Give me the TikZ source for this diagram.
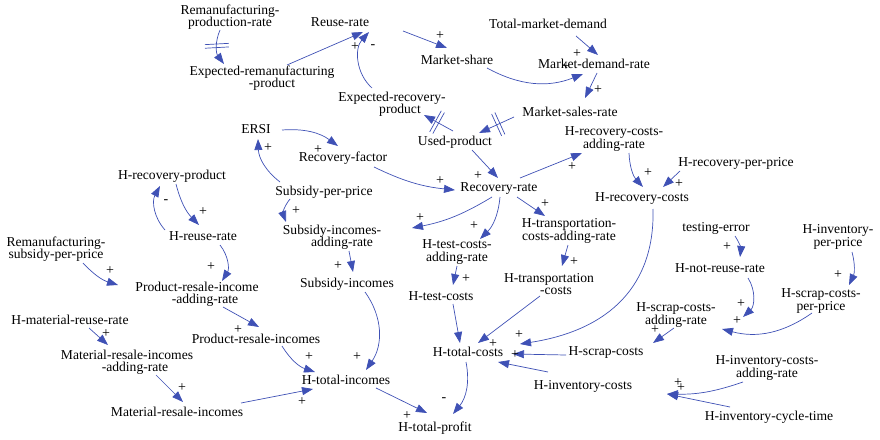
\documentclass[tikz,border=0pt]{standalone}
\usepackage{fontspec}
\setmainfont{Liberation Serif}
\usepackage{tikz}
\usetikzlibrary{arrows.meta, calc, decorations.markings}
\definecolor{linkblue}{RGB}{63,81,181}
\tikzset{
  cvar/.style={align=center, inner sep=2pt, font=\fontsize{13.6}{12.5}\selectfont},
  link/.style={draw=linkblue, line width=0.7pt, -{Triangle[length=11pt,width=8pt]}},
  polmark/.style={inner sep=0pt, font=\fontsize{14}{14}\selectfont},
  delaymark/.style={postaction={decorate}, decoration={markings, mark=at position #1 with {
    \draw[-, draw=linkblue, line width=0.7pt] (-1.8pt,-12pt) -- (-1.8pt,12pt) (1.8pt,-12pt) -- (1.8pt,12pt);}}},
}

\begin{document}
\begin{tikzpicture}[x=1pt, y=-1pt]
  \useasboundingbox (0,0) rectangle (880,439);

  % market side
  \node[cvar] (rpr) at (230,17) {Remanufacturing-\\production-rate};
  \node[cvar] (erp) at (262,78) {Expected-remanufacturing\\\hspace*{20pt}-product};
  \node[cvar] (rr) at (340,22) {Reuse-rate};
  \node[cvar] (tmd) at (548,24) {Total-market-demand};
  \node[cvar] (ms) at (457,60) {Market-share};
  \node[cvar] (mdr) at (594,64) {Market-demand-rate};
  \node[cvar] (erc) at (392,104) {Expected-recovery-\\\hspace*{16pt}product};
  \node[cvar] (msr) at (570,112) {Market-sales-rate};
  \node[cvar] (up) at (455,142) {Used-product};

  % recovery
  \node[cvar] (ersi) at (256,129) {ERSI};
  \node[cvar] (rf) at (343,158) {Recovery-factor};
  \node[cvar] (hrcar) at (614,139) {H-recovery-costs-\\adding-rate};
  \node[cvar] (hrpp) at (736,163) {H-recovery-per-price};
  \node[cvar] (hrp) at (172,176) {H-recovery-product};
  \node[cvar] (spp) at (324,192) {Subsidy-per-price};
  \node[cvar] (rec) at (499,189) {Recovery-rate};
  \node[cvar] (hrc) at (642,199) {H-recovery-costs};
  \node[cvar] (hrr) at (203,236) {H-reuse-rate};

  % incomes and costs
  \node[cvar] (siar) at (332,237) {Subsidy-incomes-\\\hspace*{20pt}adding-rate};
  \node[cvar] (htcar) at (457,252) {H-test-costs-\\adding-rate};
  \node[cvar] (htrar) at (569,231) {H-transportation-\\costs-adding-rate};
  \node[cvar] (te) at (716,228) {testing-error};
  \node[cvar] (hipp) at (838,237) {H-inventory-\\per-price};
  \node[cvar] (rspp) at (56,249) {Remanufacturing-\\subsidy-per-price};
  \node[cvar] (hnrr) at (720,268) {H-not-reuse-rate};
  \node[cvar] (si) at (347,284) {Subsidy-incomes};
  \node[cvar] (htrc) at (549,284) {H-transportation\\\hspace*{14pt}-costs};
  \node[cvar] (htc) at (441,296) {H-test-costs};
  \node[cvar] (priar) at (197,294) {Product-resale-income\\\hspace*{16pt}-adding-rate};
  \node[cvar] (hscpp) at (821,301) {H-scrap-costs-\\per-price};
  \node[cvar] (hscar) at (676,315) {H-scrap-costs-\\adding-rate};
  \node[cvar] (hmrr) at (70,320) {H-material-reuse-rate};
  \node[cvar] (pri) at (256,339) {Product-resale-incomes};
  \node[cvar] (htotc) at (468,352) {H-total-costs};
  \node[cvar] (hsc) at (606,352) {H-scrap-costs};
  \node[cvar] (mriar) at (127,362) {Material-resale-incomes\\\hspace*{16pt}-adding-rate};
  \node[cvar] (hti) at (346,380) {H-total-incomes};
  \node[cvar] (hicar) at (767,368) {H-inventory-costs-\\adding-rate};
  \node[cvar] (hic) at (583,386) {H-inventory-costs};
  \node[cvar] (mri) at (177,412) {Material-resale-incomes};
  \node[cvar] (hict) at (769,417) {H-inventory-cycle-time};
  \node[cvar] (htp) at (435,428) {H-total-profit};

  % links
  \draw[link, delaymark=0.45] ($(rpr)+(-10,13)$) to[bend right=30] ($(erp)+(-38,-14)$);
  \draw[link] ($(erp)+(25,-13)$) -- ($(rr)+(23,10)$);
  \draw[link] ($(erc)+(-20,-16)$) to[bend left=45] ($(rr)+(29,10)$);
  \draw[link] ($(rr)+(63,9)$) -- ($(ms)+(-10,-12)$);
  \draw[link] ($(ms)+(30,8)$) to[bend right=25] ($(mdr)+(-11,10)$);
  \draw[link] ($(tmd)+(28,12)$) -- ($(mdr)+(4,-9)$);
  \draw[link] ($(mdr)+(3,9)$) -- ($(msr)+(15,-14)$);
  \draw[link, delaymark=0.45] ($(msr)+(-56,5)$) -- ($(up)+(24,-9)$);
  \draw[link, delaymark=0.55] ($(up)+(-2,-11)$) -- ($(erc)+(32,11)$);
  \draw[link] ($(up)+(17,8)$) -- ($(rec)+(-1,-11)$);
  \draw[link] ($(ersi)+(26,1)$) to[bend left=20] ($(rf)+(-5,-12)$);
  \draw[link] ($(rf)+(31,9)$) to[bend right=10] ($(rec)+(-44,1)$);
  \draw[link] ($(spp)+(-44,-10)$) to[bend left=25] ($(ersi)+(2,10)$);
  \draw[link] ($(spp)+(-34,7)$) to[bend right=30] ($(siar)+(-46,-15)$);
  \draw[link] ($(rec)+(21,-11)$) -- ($(hrcar)+(-32,14)$);
  \draw[link] ($(rec)+(-7,8)$) to[bend left=10] ($(siar)+(80,-9)$);
  \draw[link] ($(rec)+(1,8)$) to[bend left=20] ($(htcar)+(23,-13)$);
  \draw[link] ($(rec)+(18,8)$) -- ($(htrar)+(-24,-15)$);
  \draw[link] ($(hrcar)+(15,14)$) to[bend right=20] ($(hrc)+(1,-12)$);
  \draw[link] ($(hrpp)+(-56,8)$) -- ($(hrc)+(21,-12)$);
  \draw[link] ($(hrp)+(4,8)$) to[bend right=15] ($(hrr)+(-4,-11)$);
  \draw[link] ($(hrr)+(-38,-6)$) to[bend left=35] ($(hrp)+(-12,10)$);
  \draw[link] ($(hrr)+(17,9)$) to[bend left=35] ($(priar)+(25,-13)$);
  \draw[link] ($(rspp)+(27,14)$) to[bend right=15] ($(priar)+(-79,-9)$);
  \draw[link] ($(siar)+(17,14)$) -- ($(si)+(6,-12)$);
  \draw[link] ($(htcar)+(0,14)$) -- ($(htc)+(12,-11)$);
  \draw[link] ($(htrar)+(-1,14)$) -- ($(htrc)+(13,-18)$);
  \draw[link] ($(te)+(19,8)$) to[bend left=20] ($(hnrr)+(20,-11)$);
  \draw[link] ($(hipp)+(14,15)$) to[bend left=20] ($(hscpp)+(28,-16)$);
  \draw[link] ($(hnrr)+(28,10)$) to[bend left=40] ($(hscar)+(67,2)$);
  \draw[link] ($(hscpp)+(-9,12)$) to[bend left=25] ($(hscar)+(46,14)$);
  \draw[link] ($(hscar)+(-2,13)$) -- ($(hsc)+(47,-9)$);
  \draw[link] ($(hrc)+(11,10)$) .. controls ($(hrc)+(13,86)$) and ($(htotc)+(142,-22)$) .. ($(htotc)+(52,-8)$);
  \draw[link] ($(htrc)+(-9,12)$) -- ($(htotc)+(10,-9)$);
  \draw[link] ($(htc)+(12,8)$) -- ($(htotc)+(-8,-9)$);
  \draw[link] ($(hsc)+(-40,3)$) -- ($(htotc)+(45,2)$);
  \draw[link] ($(hic)+(-35,-14)$) -- ($(htotc)+(30,10)$);
  \draw[link] ($(hicar)+(-24,14)$) to[bend left=10] ($(hic)+(84,8)$);
  \draw[link] ($(hict)+(-39,-10)$) -- ($(hic)+(84,8)$);
  \draw[link] ($(htotc)+(-2,10)$) to[bend left=25] ($(htp)+(18,-14)$);
  \draw[link] ($(hti)+(30,8)$) -- ($(htp)+(-8,-15)$);
  \draw[link] ($(si)+(18,8)$) to[bend left=35] ($(hti)+(20,-10)$);
  \draw[link] ($(pri)+(26,7)$) to[bend right=20] ($(hti)+(-31,-8)$);
  \draw[link] ($(mri)+(64,-9)$) -- ($(hti)+(-33,9)$);
  \draw[link] ($(priar)+(26,13)$) -- ($(pri)+(3,-12)$);
  \draw[link] ($(hmrr)+(19,8)$) -- ($(mriar)+(-19,-17)$);
  \draw[link] ($(mriar)+(29,13)$) -- ($(mri)+(6,-10)$);

  % polarities
  \foreach \px/\py/\ps [count=\k] in {355/47/+, 373/47/-, 440/36/+, 566/67/+, 577/54/+, 598/90/+,
      478/176/+, 318/150/+, 440/181/+, 268/148/+, 296/211/+, 572/167/+, 420/218/+, 474/226/+,
      545/204/+, 648/173/+, 679/184/+, 203/212/+, 166/202/-, 211/267/+, 110/271/+, 338/266/+,
      466/279/+, 574/262/+, 727/247/+, 838/275/+, 741/304/+, 737/321/+, 655/330/+, 519/335/+,
      493/344/+, 515/355/+, 678/383/+, 681/388/+, 444/400/-, 407/416/+, 357/357/+, 309/357/+,
      302/402/+, 238/330/+, 106/334/+, 182/388/+}
    \node[polmark] (pol\k) at (\px,\py) {\ps};
\end{tikzpicture}
\end{document}
